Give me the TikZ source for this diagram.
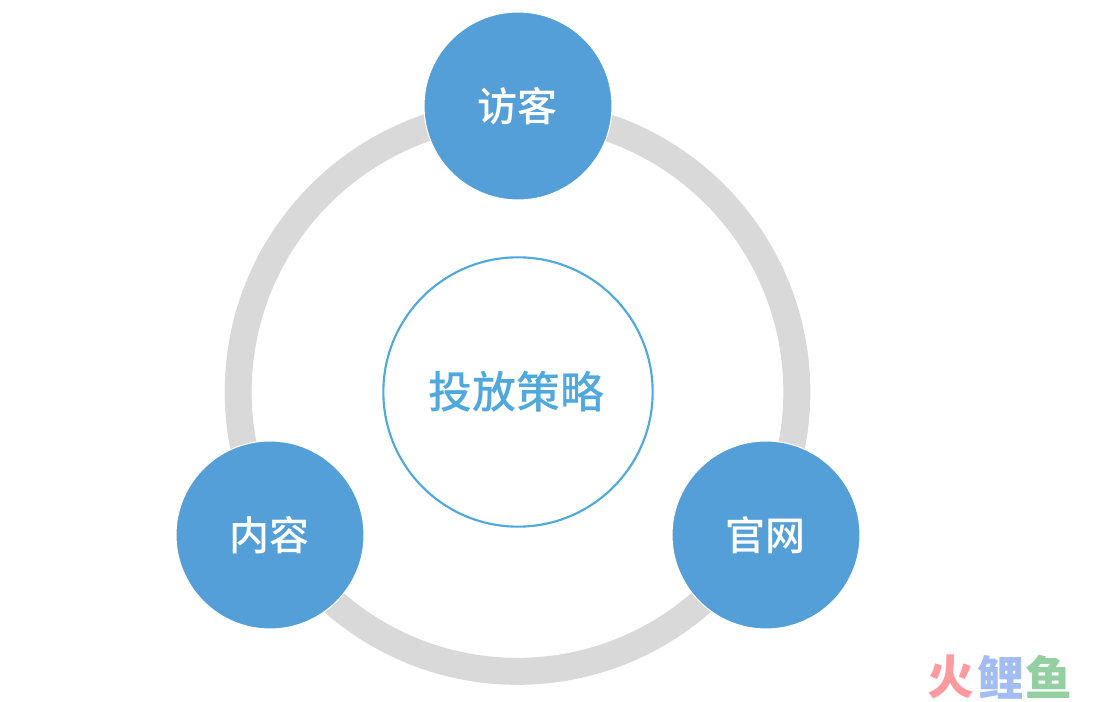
\documentclass[tikz,border=0pt]{standalone}
\usepackage{fontspec}
\newfontfamily\cjk{Noto Sans CJK SC Medium}
\newfontfamily\cjkbold{Noto Sans CJK SC Black}
\usepackage{tikz}
\definecolor{ballblue}{HTML}{559FD8}
\definecolor{hubblue}{HTML}{4FA9DC}
\definecolor{ringgray}{HTML}{D9D9D9}
\definecolor{markred}{HTML}{FF9A9E}
\definecolor{markblue}{HTML}{A3BDF2}
\definecolor{markgreen}{HTML}{93CFA0}
\tikzstyle{ring}=[circle,draw=ringgray,line width=20.25pt,minimum size=419pt,inner sep=0pt]
\tikzstyle{ball}=[circle,fill=ballblue,draw=white,line width=0.8pt,minimum size=141pt,inner sep=0pt,text=white,font=\cjk\fontsize{30}{30}\selectfont]
\tikzstyle{hub}=[circle,fill=white,draw=hubblue,line width=1.6pt,minimum size=202pt,inner sep=0pt,text=hubblue,font=\cjk\fontsize{33}{33}\selectfont]
\tikzstyle{logoglyph}=[inner sep=0pt,font=\cjkbold\fontsize{35}{35}\selectfont]

\begin{document}
\begin{tikzpicture}[x=0.75pt,y=0.75pt]
    \useasboundingbox (0,0) rectangle (1096,702);
    % First the ring and the hub
    \node[ring] (track) at (517.5,310) {};
    \node[hub] (strategy) at (518,310) {\hspace{-2pt}投放策略};

    % Then the three balls on the ring
    \foreach \pos/\name/\word in {{(518,596)/visitor/访客}, {(270,167)/content/内容}, {(766,167)/site/官网}}
        \node[ball] (\name) at \pos {\hspace{-1pt}\word};

    % Mark in the corner
    \foreach \pos/\name/\col/\word in {{(951,25)/markone/markred/火}, {(1001,25)/marktwo/markblue/鲤}, {(1049,25)/markthree/markgreen/鱼}}
        \node[logoglyph,text=\col] (\name) at \pos {\word};
\end{tikzpicture}
\end{document}
